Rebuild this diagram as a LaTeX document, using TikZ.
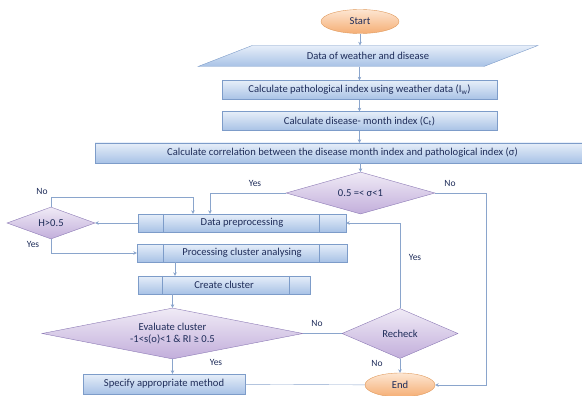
\documentclass[tikz,border=0pt]{standalone}
\usepackage{fontspec}
\setmainfont{Carlito}
\usepackage{xcolor}
\usetikzlibrary{positioning,arrows.meta,calc,shapes.geometric}
\definecolor{boxtop}{HTML}{E6EEF9}
\definecolor{boxbot}{HTML}{A8C2E6}
\definecolor{boxline}{HTML}{7D9CC9}
\definecolor{diatop}{HTML}{F0EBF6}
\definecolor{diabot}{HTML}{C2AEDB}
\definecolor{dialine}{HTML}{8C7AB5}
\definecolor{termtop}{HTML}{FDE6D2}
\definecolor{termbot}{HTML}{F5AE74}
\definecolor{termline}{HTML}{E09A5C}
\definecolor{txt}{HTML}{1F2D5A}
\definecolor{wire}{HTML}{8AA5CC}
\tikzset{
  blk/.style={draw=boxline,top color=boxtop,bottom color=boxbot,align=center,minimum height=19pt,inner sep=1pt,font=\fontsize{10.6}{11}\selectfont,text=txt},
  dia/.style={diamond,draw=dialine,top color=diatop,bottom color=diabot,align=center,inner sep=1pt,font=\fontsize{10.6}{12}\selectfont,text=txt},
  term/.style={ellipse,draw=termline,top color=termtop,bottom color=termbot,minimum height=24pt,inner sep=1pt,font=\fontsize{10.6}{11}\selectfont,text=txt},
  lbl/.style={font=\fontsize{9.5}{10}\selectfont,text=txt,inner sep=1pt},
  arr/.style={-{Stealth[length=3.5pt,width=3.5pt]},draw=wire,thin},
  lin/.style={draw=wire,thin},
}
\begin{document}
\begin{tikzpicture}[x=1pt,y=-1pt]
  \useasboundingbox (0,0) rectangle (582,396);
  \node[term,minimum width=78pt] (start) at (360,21.5) {Start};
  \node[blk,trapezium,trapezium left angle=18,trapezium right angle=162,trapezium stretches=true,minimum width=340pt,minimum height=21pt] (data) at (368,56) {Data of weather and disease};
  \node[blk,minimum width=275pt] (patho) at (359.5,90) {Calculate pathological index using weather data (I\textsubscript{w})};
  \node[blk,minimum width=275pt] (month) at (359.5,121) {Calculate disease- month index (C\textsubscript{t})};
  \node[blk,minimum width=495pt,minimum height=20pt] (corr) at (342.5,153) {Calculate correlation between the disease month index and pathological index (σ)};
  \node[dia,shape aspect=3.5,minimum width=149pt,minimum height=42pt] (sig) at (360.5,193) {0.5 =< σ<1};
  \node[blk,minimum width=208pt,minimum height=18pt] (dp) at (242,223) {Data preprocessing};
  \node[dia,shape aspect=2.7,minimum width=88pt,minimum height=32pt] (hd) at (51,223) {H>0.5};
  \node[blk,minimum width=210pt,minimum height=18pt] (pc) at (242,253) {Processing cluster analysing};
  \node[blk,minimum width=172pt,minimum height=18pt] (cc) at (224,285) {Create cluster};
  \node[dia,shape aspect=5,minimum width=261pt,minimum height=51pt] (ev) at (172.5,333.5) {Evaluate cluster\\-1<s(o)<1 \& RI ≥ 0.5};
  \node[blk,minimum width=162pt,minimum height=20pt] (sp) at (164,384) {Specify appropriate method};
  \node[dia,shape aspect=2.3,minimum width=116pt,minimum height=50pt] (rc) at (400,333.5) {Recheck};
  \node[term,minimum width=70pt] (end) at (400,385) {End};
  % side bars of the process boxes
  \draw[boxline] ([xshift=25pt]dp.north west) -- ([xshift=25pt]dp.south west);
  \draw[boxline] ([xshift=-27pt]dp.north east) -- ([xshift=-27pt]dp.south east);
  \draw[boxline] ([xshift=26pt]pc.north west) -- ([xshift=26pt]pc.south west);
  \draw[boxline] ([xshift=-28pt]pc.north east) -- ([xshift=-28pt]pc.south east);
  \draw[boxline] ([xshift=24pt]cc.north west) -- ([xshift=24pt]cc.south west);
  \draw[boxline] ([xshift=-21pt]cc.north east) -- ([xshift=-21pt]cc.south east);
  % labels
  \node[lbl] (nohd) at (42,191) {No};
  \node[lbl] (yeshd) at (33,244) {Yes};
  \node[lbl] (yessig) at (255,183) {Yes};
  \node[lbl] (nosig) at (450,183) {No};
  \node[lbl] (noev) at (317,323) {No};
  \node[lbl] (yesev) at (216,362) {Yes};
  \node[lbl] (norc) at (377,363) {No};
  \node[lbl] (yesrc) at (415,257) {Yes};
  % connectors
  \draw[arr] (start.south) -- (start.south |- data.north);
  \draw[arr] (data.south -| patho) -- (patho);
  \draw[arr] (patho) -- (month);
  \draw[arr] (month.south) -- (month.south |- corr.north);
  \draw[arr] (corr.south -| sig) -- (sig);
  \draw[arr] (sig.west) -| ([xshift=-32pt]dp.north);
  \draw[arr] (sig.east) -- ++(51,0) |- (end.east);
  \draw[arr] (dp) -- (hd);
  \draw[arr] (hd.north) -- ++(0,-10) -| ([xshift=-49pt]dp.north);
  \draw[arr] (hd.south) |- (pc.west);
  \draw[arr] ([xshift=-67pt]pc.south) -- ([xshift=-67pt]pc.south |- cc.north);
  \draw[arr] (cc.south -| ev) -- (ev);
  \draw[arr] (ev.south) -- (ev.south |- sp.north);
  \draw[lin] (ev) -- (rc);
  \draw[arr] (rc.north) |- (dp.east);
  \draw[arr] (rc) -- (end);
  \draw[lin] (sp) -- (end);
\end{tikzpicture}
\end{document}
